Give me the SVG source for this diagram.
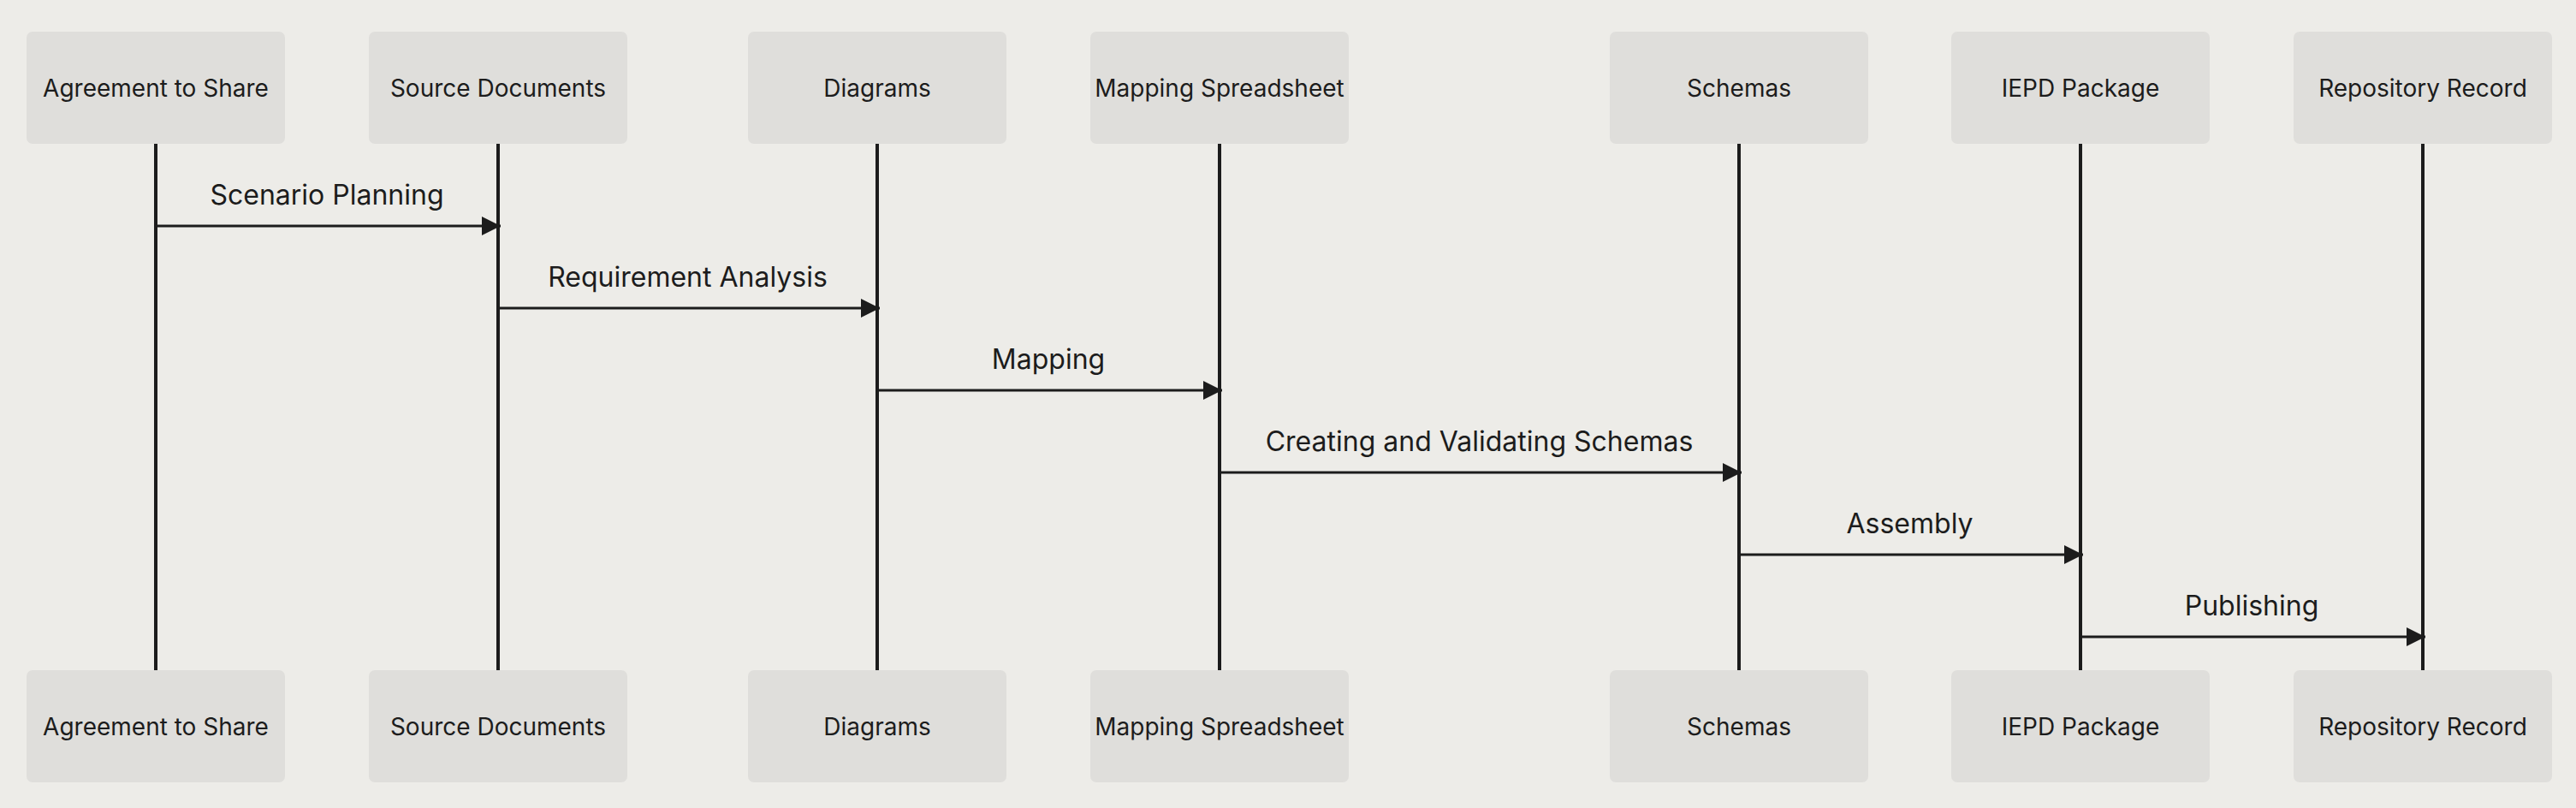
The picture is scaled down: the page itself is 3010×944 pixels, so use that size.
<svg xmlns="http://www.w3.org/2000/svg" width="3010" height="944" viewBox="0 0 3010 944">
<style>
.bg{fill:#EDECE8}
.actor rect{fill:#DFDEDB;stroke:none}
.actor text{font-family:Inter,"Liberation Sans",sans-serif;font-size:28px;fill:#1c1c1c;text-anchor:middle;dominant-baseline:central}
.life{stroke:#1c1c1c;stroke-width:4;fill:none}
.msg{stroke:#1c1c1c;stroke-width:3;fill:none}
.lbl{font-family:Inter,"Liberation Sans",sans-serif;font-size:32px;fill:#1c1c1c;text-anchor:middle}
</style>
<defs>
<marker id="ah" markerUnits="userSpaceOnUse" markerWidth="24" markerHeight="22" refX="22" refY="11" orient="auto">
<path d="M0,0 L22,11 L0,22 Z" fill="#1c1c1c"/>
</marker>
</defs>
<rect class="bg" x="0" y="0" width="3010" height="944"/>
<g id="lifelines">
<line class="life" x1="182" y1="168" x2="182" y2="783"/>
<line class="life" x1="582" y1="168" x2="582" y2="783"/>
<line class="life" x1="1025" y1="168" x2="1025" y2="783"/>
<line class="life" x1="1425" y1="168" x2="1425" y2="783"/>
<line class="life" x1="2032" y1="168" x2="2032" y2="783"/>
<line class="life" x1="2431" y1="168" x2="2431" y2="783"/>
<line class="life" x1="2831" y1="168" x2="2831" y2="783"/>
</g>
<g id="actor-agreement" class="actor">
<rect x="31" y="37" width="302" height="131" rx="7"/><text x="182" y="102.5">Agreement to Share</text>
<rect x="31" y="783" width="302" height="131" rx="7"/><text x="182" y="848.5">Agreement to Share</text>
</g>
<g id="actor-source" class="actor">
<rect x="431" y="37" width="302" height="131" rx="7"/><text x="582" y="102.5">Source Documents</text>
<rect x="431" y="783" width="302" height="131" rx="7"/><text x="582" y="848.5">Source Documents</text>
</g>
<g id="actor-diagrams" class="actor">
<rect x="874" y="37" width="302" height="131" rx="7"/><text x="1025" y="102.5">Diagrams</text>
<rect x="874" y="783" width="302" height="131" rx="7"/><text x="1025" y="848.5">Diagrams</text>
</g>
<g id="actor-mapping" class="actor">
<rect x="1274" y="37" width="302" height="131" rx="7"/><text x="1425" y="102.5">Mapping Spreadsheet</text>
<rect x="1274" y="783" width="302" height="131" rx="7"/><text x="1425" y="848.5">Mapping Spreadsheet</text>
</g>
<g id="actor-schemas" class="actor">
<rect x="1881" y="37" width="302" height="131" rx="7"/><text x="2032" y="102.5">Schemas</text>
<rect x="1881" y="783" width="302" height="131" rx="7"/><text x="2032" y="848.5">Schemas</text>
</g>
<g id="actor-iepd" class="actor">
<rect x="2280" y="37" width="302" height="131" rx="7"/><text x="2431" y="102.5">IEPD Package</text>
<rect x="2280" y="783" width="302" height="131" rx="7"/><text x="2431" y="848.5">IEPD Package</text>
</g>
<g id="actor-repository" class="actor">
<rect x="2680" y="37" width="302" height="131" rx="7"/><text x="2831" y="102.5">Repository Record</text>
<rect x="2680" y="783" width="302" height="131" rx="7"/><text x="2831" y="848.5">Repository Record</text>
</g>
<g id="connectors">
<line class="msg" x1="182" y1="264" x2="585" y2="264" marker-end="url(#ah)"/>
<text class="lbl" x="382" y="239">Scenario Planning</text>
<line class="msg" x1="582" y1="360" x2="1028" y2="360" marker-end="url(#ah)"/>
<text class="lbl" x="803.5" y="335">Requirement Analysis</text>
<line class="msg" x1="1025" y1="456" x2="1428" y2="456" marker-end="url(#ah)"/>
<text class="lbl" x="1225" y="431">Mapping</text>
<line class="msg" x1="1425" y1="552" x2="2035" y2="552" marker-end="url(#ah)"/>
<text class="lbl" x="1728.5" y="527">Creating and Validating Schemas</text>
<line class="msg" x1="2032" y1="648" x2="2434" y2="648" marker-end="url(#ah)"/>
<text class="lbl" x="2231.5" y="623">Assembly</text>
<line class="msg" x1="2431" y1="744" x2="2834" y2="744" marker-end="url(#ah)"/>
<text class="lbl" x="2631" y="719">Publishing</text>
</g>
</svg>
